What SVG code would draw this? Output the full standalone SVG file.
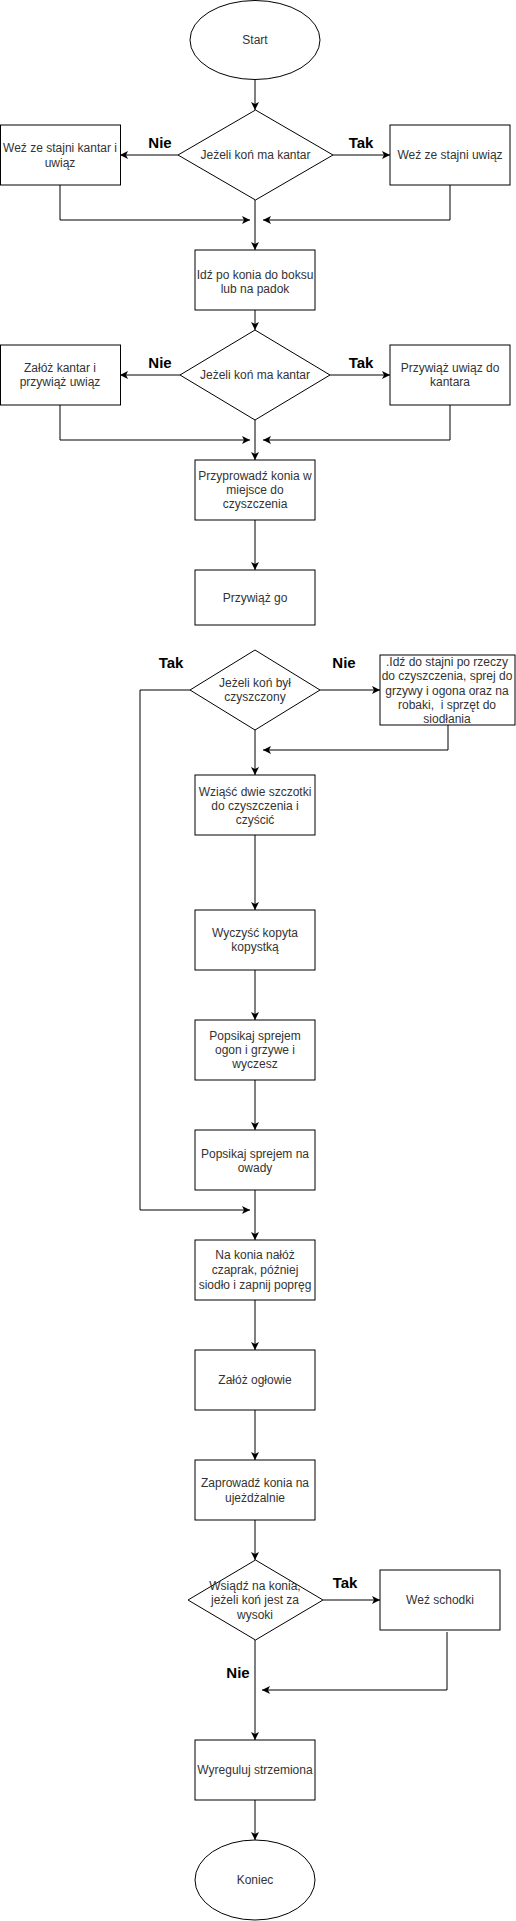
<svg xmlns="http://www.w3.org/2000/svg" width="516" height="1921" viewBox="0 0 516 1921">
<style>
.n{fill:#fff;stroke:#000;stroke-width:1}
.t{font-family:"Liberation Sans",Arial,sans-serif;font-size:12px;fill:#333;text-anchor:middle}
.l{font-family:"Liberation Sans",Arial,sans-serif;font-size:15px;font-weight:bold;fill:#000;text-anchor:middle}
.c{fill:none;stroke:#000;stroke-width:1}
</style>
<defs>
<marker id="a" markerWidth="9" markerHeight="9" refX="8" refY="4" orient="auto" markerUnits="userSpaceOnUse">
<path d="M0,0 L8,4 L0,8 L2,4 Z" fill="#000"/>
</marker>
</defs>
<rect width="516" height="1921" fill="#fff"/>
<g id="connectors">
<path class="c" d="M255,80 V110" marker-end="url(#a)"/>
<path class="c" d="M178,155 H120" marker-end="url(#a)"/>
<path class="c" d="M333,155 H390" marker-end="url(#a)"/>
<path class="c" d="M60,185 V220 H250" marker-end="url(#a)"/>
<path class="c" d="M450,185 V220 H263" marker-end="url(#a)"/>
<path class="c" d="M255,200 V250" marker-end="url(#a)"/>
<path class="c" d="M255,310 V330" marker-end="url(#a)"/>
<path class="c" d="M180,375 H120" marker-end="url(#a)"/>
<path class="c" d="M330,375 H390" marker-end="url(#a)"/>
<path class="c" d="M60,405 V440 H250" marker-end="url(#a)"/>
<path class="c" d="M450,405 V440 H263" marker-end="url(#a)"/>
<path class="c" d="M255,420 V460" marker-end="url(#a)"/>
<path class="c" d="M255,520 V570" marker-end="url(#a)"/>
<path class="c" d="M320,690 H380" marker-end="url(#a)"/>
<path class="c" d="M448,725 V750 H263" marker-end="url(#a)"/>
<path class="c" d="M255,730 V775" marker-end="url(#a)"/>
<path class="c" d="M190,690 H140 V1210 H250" marker-end="url(#a)"/>
<path class="c" d="M255,835 V910" marker-end="url(#a)"/>
<path class="c" d="M255,970 V1020" marker-end="url(#a)"/>
<path class="c" d="M255,1080 V1130" marker-end="url(#a)"/>
<path class="c" d="M255,1190 V1240" marker-end="url(#a)"/>
<path class="c" d="M255,1300 V1350" marker-end="url(#a)"/>
<path class="c" d="M255,1410 V1460" marker-end="url(#a)"/>
<path class="c" d="M255,1520 V1560" marker-end="url(#a)"/>
<path class="c" d="M323,1600 H380" marker-end="url(#a)"/>
<path class="c" d="M447,1632 V1690 H262" marker-end="url(#a)"/>
<path class="c" d="M255,1640 V1740" marker-end="url(#a)"/>
<path class="c" d="M255,1800 V1840" marker-end="url(#a)"/>
</g>
<g id="labels">
<text class="l" x="160" y="148">Nie</text>
<text class="l" x="361" y="148">Tak</text>
<text class="l" x="160" y="368">Nie</text>
<text class="l" x="361" y="368">Tak</text>
<text class="l" x="171" y="668">Tak</text>
<text class="l" x="344" y="668">Nie</text>
<text class="l" x="345" y="1588">Tak</text>
<text class="l" x="238" y="1678">Nie</text>
</g>
<g id="start"><ellipse class="n" cx="255" cy="40" rx="65" ry="39.5"/><text class="t" x="255" y="44">Start</text></g>
<g id="d1"><path class="n" d="M255.5,110 L333,155 L255.5,200 L178,155 Z"/><text class="t" x="255.5" y="159">Jeżeli koń ma kantar</text></g>
<g id="b1l"><rect class="n" x="0.5" y="125" width="120" height="60"/><text class="t" x="60" y="152">Weź ze stajni kantar i</text><text class="t" x="60" y="167">uwiąz</text></g>
<g id="b1r"><rect class="n" x="390" y="125" width="120" height="60"/><text class="t" x="450" y="159">Weź ze stajni uwiąz</text></g>
<g id="b2"><rect class="n" x="195" y="250" width="120" height="60"/><text class="t" x="255" y="279">Idź po konia do boksu</text><text class="t" x="255" y="293">lub na padok</text></g>
<g id="d2"><path class="n" d="M255,330 L330,375 L255,420 L180,375 Z"/><text class="t" x="255" y="379">Jeżeli koń ma kantar</text></g>
<g id="b2l"><rect class="n" x="0.5" y="345" width="120" height="60"/><text class="t" x="60" y="372">Załóż kantar i</text><text class="t" x="60" y="386">przywiąż uwiąz</text></g>
<g id="b2r"><rect class="n" x="390" y="345" width="120" height="60"/><text class="t" x="450" y="372">Przywiąż uwiąz do</text><text class="t" x="450" y="386">kantara</text></g>
<g id="b3"><rect class="n" x="195" y="460" width="120" height="60"/><text class="t" x="255" y="480">Przyprowadź konia w</text><text class="t" x="255" y="494">miejsce do</text><text class="t" x="255" y="508">czyszczenia</text></g>
<g id="b4"><rect class="n" x="195" y="570" width="120" height="55"/><text class="t" x="255" y="602">Przywiąż go</text></g>
<g id="d3"><path class="n" d="M255,650 L320,690 L255,730 L190,690 Z"/><text class="t" x="255" y="687">Jeżeli koń był</text><text class="t" x="255" y="701">czyszczony</text></g>
<g id="b3r"><rect class="n" x="380" y="655" width="135" height="70"/><text class="t" x="447" y="666">.Idź do stajni po rzeczy</text><text class="t" x="447" y="680">do czyszczenia, sprej do</text><text class="t" x="447" y="694.5">grzywy i ogona oraz na</text><text class="t" x="447" y="709" xml:space="preserve" style="white-space:pre">robaki,  i sprzęt do</text><text class="t" x="447" y="723">siodłania</text></g>
<g id="b5"><rect class="n" x="195" y="775" width="120" height="60"/><text class="t" x="255" y="796">Wziąść dwie szczotki</text><text class="t" x="255" y="810">do czyszczenia i</text><text class="t" x="255" y="824">czyścić</text></g>
<g id="b6"><rect class="n" x="195" y="910" width="120" height="60"/><text class="t" x="255" y="937">Wyczyść kopyta</text><text class="t" x="255" y="951">kopystką</text></g>
<g id="b7"><rect class="n" x="195" y="1020" width="120" height="60"/><text class="t" x="255" y="1040">Popsikaj sprejem</text><text class="t" x="255" y="1054">ogon i grzywe i</text><text class="t" x="255" y="1068">wyczesz</text></g>
<g id="b8"><rect class="n" x="195" y="1130" width="120" height="60"/><text class="t" x="255" y="1157.5">Popsikaj sprejem na</text><text class="t" x="255" y="1171.5">owady</text></g>
<g id="b9"><rect class="n" x="195" y="1240" width="120" height="60"/><text class="t" x="255" y="1259">Na konia nałóż</text><text class="t" x="255" y="1274">czaprak, później</text><text class="t" x="255" y="1289">siodło i zapnij popręg</text></g>
<g id="b10"><rect class="n" x="195" y="1350" width="120" height="60"/><text class="t" x="255" y="1384">Załóż ogłowie</text></g>
<g id="b11"><rect class="n" x="195" y="1460" width="120" height="60"/><text class="t" x="255" y="1487">Zaprowadź konia na</text><text class="t" x="255" y="1501.5">ujeżdżalnie</text></g>
<g id="d4"><path class="n" d="M255.5,1560 L323,1600 L255.5,1640 L188,1600 Z"/><text class="t" x="255" y="1590">Wsiądź na konia,</text><text class="t" x="255" y="1604">jeżeli koń jest za</text><text class="t" x="255" y="1619">wysoki</text></g>
<g id="b4r"><rect class="n" x="380" y="1570" width="120" height="60"/><text class="t" x="440" y="1603.5">Weź schodki</text></g>
<g id="b12"><rect class="n" x="195" y="1740" width="120" height="60"/><text class="t" x="255" y="1773.5">Wyreguluj strzemiona</text></g>
<g id="end"><ellipse class="n" cx="255" cy="1880" rx="60" ry="40"/><text class="t" x="255" y="1883.5">Koniec</text></g>
</svg>
